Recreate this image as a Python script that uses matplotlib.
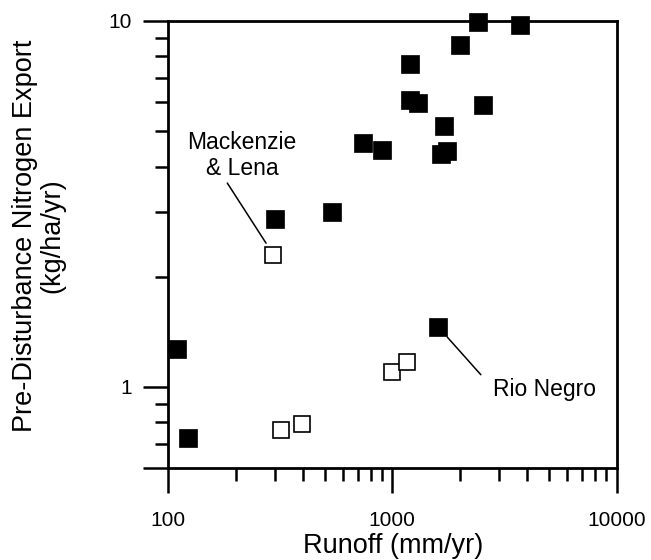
import matplotlib
matplotlib.use("Agg")
import matplotlib.pyplot as plt
from matplotlib.ticker import FixedLocator, NullFormatter

plt.rcParams['font.family'] = ['Liberation Sans', 'DejaVu Sans']

# Data (runoff mm/yr, N export kg/ha/yr)
filled_x = [110, 123, 300, 540, 740, 900, 1200, 1200, 1300, 1650, 1760, 1700,
            2000, 2400, 2550, 3700, 1600]
filled_y = [1.27, 0.725, 2.88, 3.0, 4.65, 4.45, 7.65, 6.1, 5.97, 4.33, 4.41, 5.16,
            8.6, 9.95, 5.9, 9.76, 1.46]
open_x = [295, 320, 395, 1000, 1165]
open_y = [2.3, 0.76, 0.79, 1.1, 1.17]

label_mack = "Mackenzie\n& Lena"
label_rio = "Rio Negro"
mack_pt = (open_x[0], open_y[0])
rio_pt = (filled_x[-1], filled_y[-1])

xlabel = "Runoff (mm/yr)"
ylabel = "Pre-Disturbance Nitrogen Export\n(kg/ha/yr)"
x_major = [100, 1000, 10000]
x_major_labels = ["100", "1000", "10000"]
y_major = [0.6, 1, 10]
y_major_labels = ["", "1", "10"]

W, H = 651, 560
fig = plt.figure(figsize=(W / 100, H / 100), dpi=100)
ax = fig.add_axes([168 / W, 92 / H, 448.5 / W, 447 / H])
ax.set_xscale('log')
ax.set_yscale('log')
ax.set_xlim(100, 10000)
ax.set_ylim(0.6, 10)

ax.plot(filled_x, filled_y, linestyle='none', marker='s', markersize=13.5,
        markerfacecolor='black', markeredgecolor='black', markeredgewidth=0.5,
        clip_on=False, zorder=3)
ax.plot(open_x, open_y, linestyle='none', marker='s', markersize=12,
        markerfacecolor='white', markeredgecolor='black', markeredgewidth=1.2,
        clip_on=False, zorder=3)

ax.annotate(label_mack, xy=mack_pt, xycoords='data',
            xytext=(-22.5, 71.3), textcoords='offset points',
            ha='center', va='center', fontsize=16.5, linespacing=1.2,
            multialignment='center',
            arrowprops=dict(arrowstyle='-', color='black', lw=1.1,
                            relpos=(0.354, -0.02), shrinkA=0, shrinkB=9.7))
ax.annotate(label_rio, xy=rio_pt, xycoords='data',
            xytext=(76.8, -45), textcoords='offset points',
            ha='center', va='center', fontsize=16.5,
            arrowprops=dict(arrowstyle='-', color='black', lw=1.1,
                            relpos=(-0.12, 1.13), shrinkA=0, shrinkB=10))

for s in ax.spines.values():
    s.set_linewidth(2)

ax.xaxis.set_major_locator(FixedLocator(x_major))
ax.set_xticklabels(x_major_labels)
ax.yaxis.set_major_locator(FixedLocator(y_major))
ax.set_yticklabels(y_major_labels)
ax.xaxis.set_minor_formatter(NullFormatter())
ax.yaxis.set_minor_formatter(NullFormatter())

ax.tick_params(axis='both', which='major', direction='out', length=18, width=1.8,
               labelsize=15, top=False, right=False)
ax.tick_params(axis='both', which='minor', direction='out', length=9.5, width=1.8,
               top=False, right=False)
ax.tick_params(axis='x', which='major', pad=13)
ax.tick_params(axis='y', which='major', pad=8)

fig.text(393 / W, 1 - 546 / H, xlabel, ha='center', va='center', fontsize=19.5)
fig.text(39 / W, 1 - 236 / H, ylabel, rotation=90, ha='center', va='center',
         multialignment='center', fontsize=19.5, linespacing=1.05)

fig.savefig("out.png", dpi=100, facecolor='white')
